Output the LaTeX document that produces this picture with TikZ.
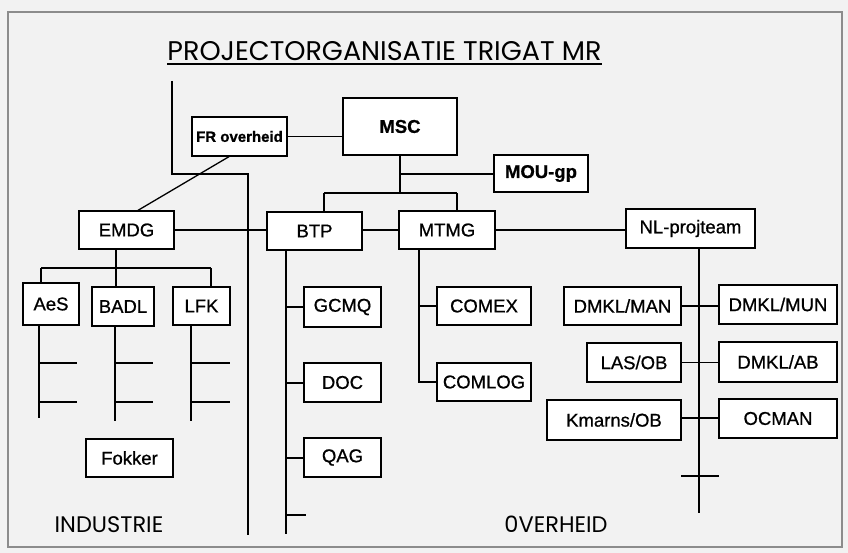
\documentclass[tikz,border=0pt]{standalone}
\usepackage{fontspec}
\setmainfont{Liberation Sans}[FakeBold=0.8]
\newfontfamily\titlefont{Poppins}
\begin{document}
\begin{tikzpicture}[x=1pt,y=-1pt,
  every node/.style={font=\fontsize{18.5}{20}\selectfont},
  box/.style={draw, line width=1.3pt, inner sep=0pt, fill=white},
  bbox/.style={box, font=\fontsize{18.5}{20}\selectfont\bfseries},
  conn/.style={line width=1.3pt},
  lbl/.style={font=\titlefont\fontsize{22.5}{24}\selectfont, inner sep=0pt}]
\useasboundingbox (0,0) rectangle (848,553);
\fill[white!95!black] (0,0) rectangle (848,553);
\draw[line width=2pt, black!45] (8,12) rectangle (842,547);
% title
\node[font=\titlefont\fontsize{27}{28}\selectfont, inner sep=0pt, anchor=base] (title) at (384.5,61) {PROJECTORGANISATIE TRIGAT MR};
\draw[conn] ([yshift=-3pt]title.base west) -- ([yshift=-3pt]title.base east);
% boxes
\node[bbox, minimum width=95, minimum height=39, font=\fontsize{15}{16}\selectfont\bfseries] (fr) at (239.5,136.5) {FR overheid};
\node[bbox, minimum width=114, minimum height=57] (msc) at (400,126.5) {MSC};
\node[bbox, minimum width=94, minimum height=37] (mou) at (541,173.5) {MOU-gp};
\node[box, minimum width=95, minimum height=38] (btp) at (314.5,231) {BTP};
\node[box, minimum width=96, minimum height=38] (mtmg) at (447,230) {MTMG};
\node[box, minimum width=129, minimum height=39] (nl) at (690.5,228.5) {NL-projteam};
\node[box, minimum width=95, minimum height=38] (emdg) at (126.5,230) {EMDG};
\node[box, minimum width=56, minimum height=42] (aes) at (51,304) {AeS};
\node[box, minimum width=62, minimum height=39] (badl) at (123,306.5) {BADL};
\node[box, minimum width=57, minimum height=38] (lfk) at (201.5,306) {LFK};
\node[box, minimum width=87, minimum height=38] (fokker) at (129.5,458) {Fokker};
\node[box, minimum width=77, minimum height=40] (gcmq) at (342.5,307) {GCMQ};
\node[box, minimum width=77, minimum height=39] (doc) at (342.5,382.5) {DOC};
\node[box, minimum width=77, minimum height=39] (qag) at (342.5,457.5) {QAG};
\node[box, minimum width=94, minimum height=38] (comex) at (484,306) {COMEX};
\node[box, minimum width=94, minimum height=38] (comlog) at (484,382) {COMLOG};
\node[box, minimum width=117, minimum height=38] (dmklman) at (622.5,306) {DMKL/MAN};
\node[box, minimum width=118, minimum height=39] (dmklmun) at (778,304.5) {DMKL/MUN};
\node[box, minimum width=94, minimum height=39] (lasob) at (634,362.5) {LAS/OB};
\node[box, minimum width=118, minimum height=40] (dmklab) at (778,362) {DMKL/AB};
\node[box, minimum width=134, minimum height=40] (kmarns) at (614,420) {Kmarns/OB};
\node[box, minimum width=118, minimum height=39] (ocman) at (778,418.5) {OCMAN};
% section labels
\node[lbl] (ind) at (109,525) {INDUSTRIE};
\node[lbl] (ovh) at (556,524) {0VERHEID};
% free coordinates
\coordinate (top) at (172,81);
\coordinate (bend1) at (172,174);
\coordinate (bend2) at (248,174);
\coordinate (bot) at (248,535);
\coordinate (mscbus) at (400,193);
\coordinate (moujoin) at (400,174);
\coordinate (emdgbus) at (116,268);
\coordinate (btpend) at (286,534);
\coordinate (btptick) at (306,515);
\coordinate (nlend) at (699,513);
\coordinate (crossL) at (681,476);
\coordinate (crossR) at (719,476);
% connectors
\begin{scope}[conn]
\draw (top) -- (bend1) -- (bend2) -- (bot);
\draw (fr.east) -- (fr.east -| msc.west);
\draw (msc.south) -- (mscbus);
\draw (moujoin) -- (moujoin -| mou.west);
\draw (324,193) -- (457,193);
\draw (324,193) -- (324,193 |- btp.north);
\draw (457,193) -- (457,193 |- mtmg.north);
\draw ([xshift=-10.5pt]fr.south) -- ([xshift=11.5pt]emdg.north);
\draw (emdg.east) -- (emdg.east -| btp.west);
\draw (btp.east |- mtmg.west) -- (mtmg.west);
\draw (mtmg.east) -- (mtmg.east -| nl.west);
% EMDG tree
\draw (116,249) -- (emdgbus);
\draw (41,268) -- (211,268);
\draw (41,268) -- (41,268 |- aes.north);
\draw (116,268) -- (116,268 |- badl.north);
\draw (211,268) -- (211,268 |- lfk.north);
\draw (39,325) -- (39,418);
\draw (39,363) -- (77,363);
\draw (39,402) -- (77,402);
\draw (115,326) -- (115,421);
\draw (115,363) -- (153,363);
\draw (115,402) -- (153,402);
\draw (191,325) -- (191,421);
\draw (191,363) -- (230,363);
\draw (191,402) -- (230,402);
% BTP tree
\draw (286,250) -- (btpend);
\draw (286,307) -- (286,307 -| gcmq.west);
\draw (286,383) -- (286,383 -| doc.west);
\draw (286,458) -- (286,458 -| qag.west);
\draw (286,515) -- (btptick);
% MTMG tree
\draw (419,249) -- (419,382) -- (comlog.west);
\draw (419,306) -- (comex.west);
% NL tree
\draw (699,248) -- (nlend);
\draw (crossL) -- (crossR);
\draw (dmklman.east) -- (dmklman.east -| dmklmun.west);
\draw (lasob.east) -- (lasob.east -| dmklab.west);
\draw (kmarns.east |- 0,418) -- (0,418 -| ocman.west);
\end{scope}
\end{tikzpicture}
\end{document}
